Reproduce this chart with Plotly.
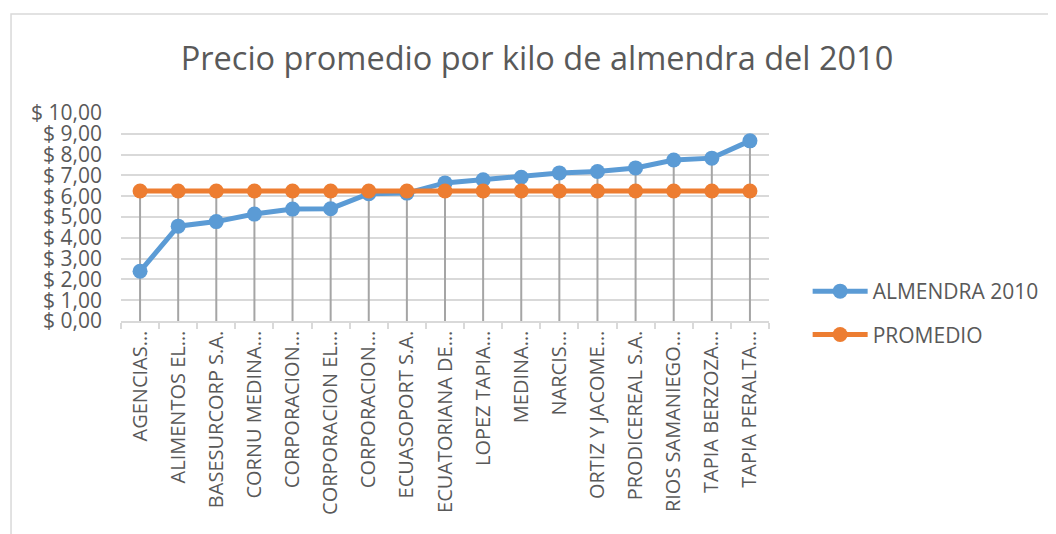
import plotly.graph_objects as go

# ---- data ----
empresas = [
    "AGENCIAS\u2026", "ALIMENTOS EL\u2026", "BASESURCORP S.A.", "CORNU MEDINA\u2026",
    "CORPORACION\u2026", "CORPORACION EL\u2026", "CORPORACION\u2026", "ECUASOPORT S.A.",
    "ECUATORIANA DE\u2026", "LOPEZ TAPIA\u2026", "MEDINA\u2026", "NARCIS\u2026",
    "ORTIZ Y JACOME\u2026", "PRODICEREAL S.A.", "RIOS SAMANIEGO\u2026", "TAPIA BERZOZA\u2026",
    "TAPIA PERALTA\u2026",
]
almendra_2010 = [2.39, 4.56, 4.78, 5.14, 5.38, 5.40, 6.12, 6.15, 6.64,
                 6.79, 6.91, 7.12, 7.19, 7.36, 7.74, 7.83, 8.66]
promedio = [6.25] * 17
y_tick_vals = [0, 1, 2, 3, 4, 5, 6, 7, 8, 9, 10]
y_tick_text = ["$ 0,00", "$ 1,00", "$ 2,00", "$ 3,00", "$ 4,00", "$ 5,00",
               "$ 6,00", "$ 7,00", "$ 8,00", "$ 9,00", "$ 10,00"]

BLUE = "#5B9BD5"
ORANGE = "#ED7D31"
TXT = "#595959"
GRID = "#D9D9D9"
FONT = "Open Sans"

xs = list(range(len(empresas)))

# drop lines (from highest series value down to the axis)
drop_x, drop_y = [], []
for i, (a, p) in enumerate(zip(almendra_2010, promedio)):
    drop_x += [i, i, None]
    drop_y += [0, max(a, p), None]

fig = go.Figure()
fig.add_trace(go.Scatter(x=drop_x, y=drop_y, mode="lines",
                         line=dict(color="#A5A5A5", width=2),
                         showlegend=False, hoverinfo="skip"))
fig.add_trace(go.Scatter(x=xs, y=almendra_2010, mode="lines+markers",
                         name="ALMENDRA 2010", legendgroup="a",
                         line=dict(color=BLUE, width=5),
                         marker=dict(color=BLUE, size=15)))
fig.add_trace(go.Scatter(x=xs, y=promedio, mode="lines+markers",
                         name="PROMEDIO", legendgroup="b",
                         line=dict(color=ORANGE, width=5),
                         marker=dict(color=ORANGE, size=15)))

OFF = 8  # page body margin
W, H = 1056 - OFF, 534 - OFF
L, T = 121 - OFF, 113 - OFF
R = W - (775 - OFF)
B = H - (321 - OFF)
pw, ph = W - L - R, H - T - B

def px_x(px):
    return (px - OFF - L) / pw

def px_y(py):
    return (H - B - (py - OFF)) / ph

fig.update_layout(
    width=W, height=H,
    margin=dict(l=L, r=R, t=T, b=B),
    paper_bgcolor="white", plot_bgcolor="white",
    font=dict(family=FONT, color=TXT, size=20),
    title=dict(text="Precio promedio por kilo de almendra del 2010",
               x=(537 - OFF) / W, xref="container", xanchor="center",
               y=1 - (59 - OFF) / H, yref="container", yanchor="middle",
               font=dict(size=32.5, color=TXT, family=FONT)),
    showlegend=True,
    legend=dict(x=px_x(814), y=px_y(313), xanchor="left", yanchor="middle",
                traceorder="grouped", tracegroupgap=13, itemwidth=55,
                font=dict(size=21, color=TXT), bgcolor="rgba(0,0,0,0)"),
    xaxis=dict(range=[-0.5, len(empresas) - 0.5], tickmode="array",
               tickvals=xs, ticktext=empresas, tickangle=-90,
               ticks="", showgrid=False, zeroline=False,
               showline=True, linecolor=GRID, linewidth=1.5,
               tickfont=dict(size=20, color=TXT),
               minor=dict(tickmode="array",
                          tickvals=[i - 0.5 for i in range(len(empresas) + 1)],
                          ticks="outside", ticklen=6, tickcolor=GRID,
                          tickwidth=1.5, showgrid=False)),
    yaxis=dict(range=[0, 10], tickmode="array", tickvals=y_tick_vals,
               ticktext=y_tick_text, showgrid=True, gridcolor=GRID,
               gridwidth=1.5, zeroline=False, showline=False, ticks="",
               ticklabelstandoff=18,
               tickfont=dict(size=21, color=TXT)),
    shapes=[
        dict(type="rect", xref="paper", yref="paper",
             x0=px_x(10), x1=px_x(1070), y0=px_y(560), y1=px_y(14),
             line=dict(color=GRID, width=1.5), layer="below"),
    ],
)

fig.write_html("out.html")
